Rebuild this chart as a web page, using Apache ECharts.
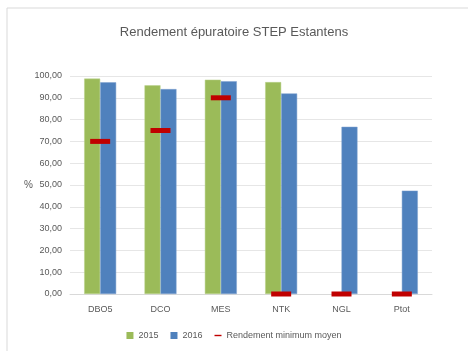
<!DOCTYPE html>
<html>
<head>
<meta charset="utf-8">
<script src="https://cdn.jsdelivr.net/npm/echarts@6/dist/echarts.min.js"></script>
<style>
html, body { margin: 0; padding: 0; background: #fff; }
#main { width: 468px; height: 351px; }
</style>
</head>
<body>
<div id="main"></div>
<script>
// catégories et valeurs
var categories = ["DBO5", "DCO", "MES", "NTK", "NGL", "Ptot"];
var values2015 = [98.8, 95.7, 98.3, 97.2, null, null];
var values2016 = [97.1, 94.0, 97.6, 92.0, 76.7, 47.4];
var minimumMoyen = [70, 75, 90, 0, 0, 0];
var yTicks = { min: 0, max: 100, interval: 10 };

var chart = echarts.init(document.getElementById('main'));
var FONT = 'Liberation Sans';

function fmt(v) {
    return v.toFixed(2).replace('.', ',');
}

var option = {
    animation: false,
    textStyle: { fontFamily: FONT },
    title: {
        text: 'Rendement épuratoire STEP Estantens',
        left: 'center',
        top: 21,
        textStyle: { fontSize: 13, fontWeight: 'normal', color: '#595959', fontFamily: FONT }
    },
    graphic: [
        { type: 'line', shape: { x1: 7, y1: 8, x2: 468, y2: 8 }, style: { stroke: '#d9d9d9', lineWidth: 1 } },
        { type: 'line', shape: { x1: 7, y1: 8, x2: 7, y2: 351 }, style: { stroke: '#d9d9d9', lineWidth: 1 } },
        { type: 'text', left: 24, top: 180, style: { text: '%', fontSize: 10, fill: '#595959', fontFamily: FONT } }
    ],
    legend: {
        bottom: 6,
        left: 'center',
        itemWidth: 7,
        itemHeight: 7,
        itemGap: 12,
        textStyle: { fontSize: 9, color: '#595959' },
        data: [
            { name: '2015', icon: 'rect', itemStyle: { borderWidth: 0 } },
            { name: '2016', icon: 'rect', itemStyle: { borderWidth: 0 } },
            { name: 'Rendement minimum moyen', icon: 'path://M0,0 L10,0 L10,2 L0,2 Z' }
        ]
    },
    grid: { left: 70, right: 36, top: 76, bottom: 57 },
    xAxis: {
        type: 'category',
        data: categories,
        axisLine: { lineStyle: { color: '#d9d9d9' } },
        axisTick: { show: false },
        axisLabel: { fontSize: 9, color: '#595959', margin: 11 }
    },
    yAxis: {
        type: 'value',
        min: yTicks.min,
        max: yTicks.max,
        interval: yTicks.interval,
        axisLine: { show: false },
        axisTick: { show: false },
        splitLine: { lineStyle: { color: '#e6e6e6' } },
        axisLabel: { fontSize: 9, color: '#595959', margin: 8, formatter: fmt }
    },
    series: [
        {
            name: '2015',
            type: 'bar',
            data: values2015,
            barWidth: '26.5%',
            barGap: '0%',
            itemStyle: { color: '#9bbb59', borderColor: '#b9d18a', borderWidth: 0.5 }
        },
        {
            name: '2016',
            type: 'bar',
            data: values2016,
            barWidth: '26.5%',
            itemStyle: { color: '#4f81bd', borderColor: '#7ea1cf', borderWidth: 0.5 }
        },
        {
            name: 'Rendement minimum moyen',
            type: 'line',
            data: minimumMoyen,
            symbol: 'rect',
            symbolSize: [20, 5],
            lineStyle: { opacity: 0 },
            itemStyle: { color: '#c00000' },
            z: 5
        }
    ]
};

chart.setOption(option);
</script>
</body>
</html>
